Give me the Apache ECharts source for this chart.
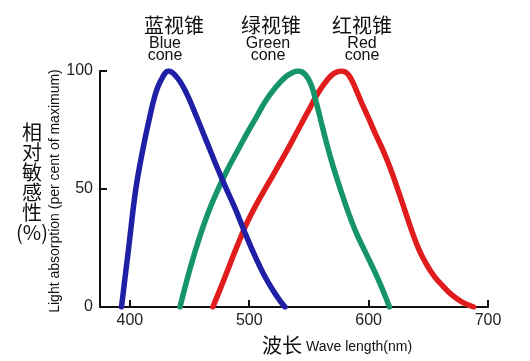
<!DOCTYPE html>
<html><head><meta charset="utf-8">
<script src="https://cdn.jsdelivr.net/npm/echarts@6/dist/echarts.min.js"></script>
<style>html,body{margin:0;padding:0;background:#fff}#c{width:530px;height:361px}</style>
</head><body><div id="c"></div>
<script>
// Data: [wavelength nm, relative absorption %]
const blueCone = [[393,0],[399,25],[405,50],[411,67],[416,79],[421,89.5],[426,96],[432.5,100],[440,97],[448,90],[456,80.5],[464,70.5],[472,60.5],[480,51],[488,42],[496,32],[504,22.5],[512,14],[520,7],[526,2.5],[530,0]];
const greenCone = [[442,0],[450,15.5],[458,29],[466,40.5],[474,50],[482,58.5],[490,66],[498,73.5],[506,80.5],[514,87.5],[522,93],[530,97.3],[536,99.3],[541,100],[547,98.5],[552,94],[556,87],[560,79],[565,69],[570,60],[576,50.5],[582,41.5],[590,31],[598,22.5],[606,14],[612,7],[617.5,0]];
const redCone = [[469.5,0],[476,8],[483,17],[490,26],[498,35.5],[506,43.5],[515,51.5],[524,59.5],[534,68.5],[543,77],[551,84.5],[558,91],[565,96],[571,99],[577.5,100],[582,99],[586,96],[590,91.5],[595,85.5],[600,80],[606,73],[612,66.5],[618,59],[624,50.5],[630,41.5],[636,32.5],[642,24.5],[648,18.5],[655,13],[662,9],[670,5],[678,2.2],[688,0]];
const xTicks = [400,500,600,700];
const yTicks = [0,50,100];
const coneZh = ['蓝视锥','绿视锥','红视锥'];
const coneEn = ['Blue','Green','Red'];
const yTitleZh = '相对敏感性';
const yTitleEn = 'Light absorption (per cent of maximum)';
const xTitleZh = '波长';
const xTitleEn = 'Wave length(nm)';

const chart = echarts.init(document.getElementById('c'), null, {renderer:'canvas'});
const latin = 'Liberation Sans, Arial, sans-serif';
const cjk = '"Noto Sans CJK SC", sans-serif';
const zhX = [174, 271, 362];
const enX = [165, 268, 362];
const graphics = [];
coneZh.forEach((t,i)=>{
  graphics.push({type:'text', x:zhX[i], y:25, style:{text:t, fill:'#111', font:'20px '+cjk, align:'center', verticalAlign:'middle'}});
  graphics.push({type:'text', x:enX[i], y:50, style:{text:coneEn[i]+'\ncone', fill:'#111', font:'16px '+latin, lineHeight:12, align:'center', verticalAlign:'middle'}});
});
graphics.push({type:'text', x:32, y:182, style:{text:yTitleZh.split('').join('\n')+'\n(%)', fill:'#111', font:'20px '+cjk, lineHeight:20, align:'center', verticalAlign:'middle'}});
graphics.push({type:'text', x:55, y:191, rotation:Math.PI/2, style:{text:yTitleEn, fill:'#111', font:'14px '+latin, align:'center', verticalAlign:'middle'}});
graphics.push({type:'text', x:262, y:345, style:{text:xTitleZh, fill:'#111', font:'20px '+cjk, align:'left', verticalAlign:'middle'}});
graphics.push({type:'text', x:306, y:347, style:{text:xTitleEn, fill:'#111', font:'14px '+latin, align:'left', verticalAlign:'middle'}});

const lineSeries = (name, data, color) => ({
  type:'line', name, data, smooth:0.4, symbol:'none', animation:false,
  lineStyle:{color, width:5.5, cap:'round', join:'round'}
});

chart.setOption({
  backgroundColor:'#fff',
  animation:false,
  grid:{left:100, right:42, top:71, bottom:54, containLabel:false},
  xAxis:{type:'value', min:375, max:700,
    axisLine:{show:true, lineStyle:{color:'#111', width:2}},
    axisTick:{show:true, inside:true, length:7, lineStyle:{color:'#111', width:2}, customValues:xTicks},
    axisLabel:{color:'#222', fontSize:16, fontFamily:latin, margin:6, customValues:xTicks},
    splitLine:{show:false}},
  yAxis:{type:'value', min:0, max:100, interval:50,
    axisLine:{show:true, lineStyle:{color:'#111', width:2}},
    axisTick:{show:true, inside:true, length:7, lineStyle:{color:'#111', width:2}, customValues:yTicks},
    axisLabel:{color:'#222', fontSize:16, fontFamily:latin, margin:7, customValues:yTicks},
    splitLine:{show:false}},
  graphic:graphics,
  series:[
    lineSeries('Red cone', redCone, '#e01c1c'),
    lineSeries('Green cone', greenCone, '#16946a'),
    lineSeries('Blue cone', blueCone, '#2020a6')
  ]
});
</script></body></html>
